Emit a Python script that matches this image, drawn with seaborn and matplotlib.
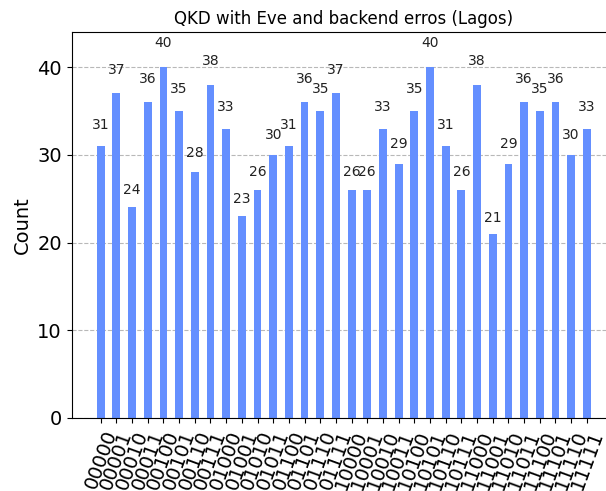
import pandas as pd
import matplotlib
matplotlib.use("Agg")
import matplotlib.pyplot as plt
import seaborn as sns

# measured outcomes, 5-bit strings
states = [format(i, "05b") for i in range(32)]
counts = [31, 37, 24, 36, 40, 35, 28, 38, 33, 23, 26, 30, 31, 36, 35, 37,
          26, 26, 33, 29, 35, 40, 31, 26, 38, 21, 29, 36, 35, 36, 30, 33]

df = pd.DataFrame({"state": states, "count": counts})

fig = plt.figure(figsize=(6.06, 4.91), dpi=100)
ax = fig.add_axes([0.1183, 0.1487, 0.898, 0.786])

sns.barplot(data=df, x="state", y="count", color="#648fff", saturation=1,
            width=0.5, ax=ax, zorder=2)

for p, c in zip(ax.patches, counts):
    ax.text(p.get_x() + p.get_width() / 2, 1.05 * c, str(c),
            ha="center", va="bottom", fontsize=10, color="#222222", zorder=4)

ax.set_xlim(-1.85, 32.85)
ax.set_ylim(0, 44)
ax.set_yticks([0, 10, 20, 30, 40])
ax.grid(axis="y", linestyle="--", color="#b8b8b8", linewidth=0.8, zorder=0)
ax.set_axisbelow(True)
ax.tick_params(axis="x", labelsize=14, labelrotation=70)
ax.tick_params(axis="y", labelsize=14)
ax.set_xlabel("")
ax.set_ylabel("Count", fontsize=14)
ax.set_title("QKD with Eve and backend erros (Lagos)", fontsize=12)

fig.savefig("out.png", dpi=100)
